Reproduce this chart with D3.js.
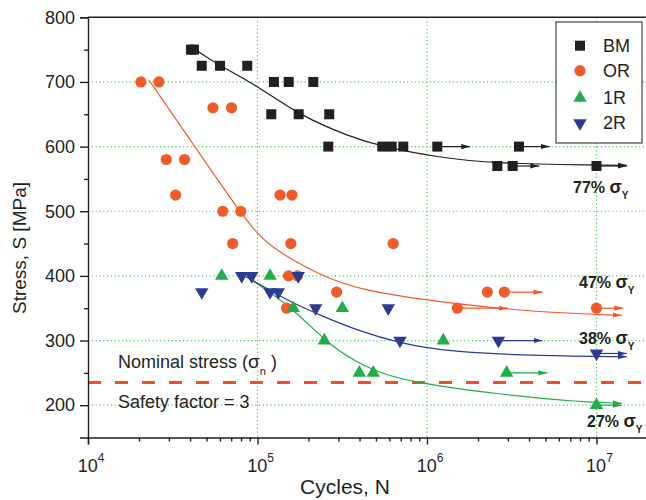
<!DOCTYPE html>
<html>
<head>
<meta charset="utf-8">
<script src="https://cdn.jsdelivr.net/npm/d3@7/dist/d3.min.js"></script>
<style>
  body { margin: 0; background: #fff; }
  svg text { font-family: "Liberation Sans", Arial, Helvetica, sans-serif; fill: #231f20; }
</style>
</head>
<body>
<div id="chart"></div>
<script>
// data: [cycles, stress MPa]
const bmPoints = [[40500, 750], [42200, 750], [46900, 725], [60100, 725], [87000, 725],
  [125000, 700], [152800, 700], [213500, 700], [120600, 650], [175000, 650], [265000, 650],
  [261600, 600], [544600, 600], [619000, 600], [724700, 600], [1150000, 600], [3490000, 600],
  [2600000, 570], [3200000, 570], [10000000, 570]];
const orPoints = [[20500, 700], [26200, 700], [54600, 660], [70300, 660], [28970, 580], [37100, 580],
  [32880, 525], [135800, 525], [159800, 525], [62400, 500], [79700, 500],
  [71400, 450], [157200, 450], [632000, 450], [152400, 400], [172200, 400],
  [293000, 375], [2270000, 375], [2860000, 375], [148500, 350], [1510000, 350], [10000000, 350]];
const r1Points = [[61500, 400], [118500, 400], [162600, 350], [316600, 350], [247700, 300],
  [1248000, 300], [399000, 250], [482000, 250], [2950000, 250], [10000000, 200]];
const r2Points = [[80700, 400], [92400, 400], [174000, 400], [46900, 375], [118500, 375],
  [132700, 375], [220500, 350], [591000, 350], [693000, 300], [2640000, 300], [10000000, 280]];

// run-outs: [start cycles, stress, arrow end cycles]
const bmRunouts = [[1150000, 600, 1800000], [3490000, 600, 5300000], [3200000, 570, 4600000], [10000000, 570, 15100000]];
const orRunouts = [[2860000, 375, 4800000], [1510000, 350, 3000000], [10000000, 350, 14400000]];
const r1Runouts = [[2950000, 250, 5130000], [10000000, 200, 14100000]];
const r2Runouts = [[2640000, 300, 4810000], [10000000, 280, 15100000]];

// fitted curves
const bmCurve = [[44700, 747], [60100, 725], [98900, 695], [175000, 649], [351000, 615],
  [545000, 600], [1190000, 583], [2460000, 574], [9800000, 571.5], [15100000, 571]];
const orCurve = [[22900, 703], [36500, 626], [77100, 502], [98900, 466], [126900, 440],
  [223500, 404], [384600, 378], [1420000, 357], [4370000, 344], [14100000, 339]];
const r1Curve = [[86300, 399], [162600, 350], [244600, 301], [384900, 265], [605000, 244],
  [951000, 234], [1367000, 227], [2500000, 218], [7650000, 205], [14100000, 203]];
const r2Curve = [[82500, 401], [118500, 378], [155500, 360], [244600, 337], [384900, 316],
  [693000, 295.5], [1367000, 282.5], [4640000, 276], [15100000, 275]];

const cycleTicks = [1e4, 1e5, 1e6, 1e7];
const tickExponents = ['4', '5', '6', '7'];
const stressTicks = [200, 300, 400, 500, 600, 700, 800];
const stressMinor = [250, 350, 450, 550, 650, 750];
const nominalStress = 235;
const endLabels = [['77%', 573, 193], ['47%', 579, 288], ['38%', 579, 344], ['27%', 587, 427]];

const W = 646, H = 500;
const svg = d3.select('#chart').append('svg').attr('width', W).attr('height', H);

const x = d3.scaleLog().domain([1e4, 2e7]).range([88, 647.5]);
const y = d3.scaleLinear().domain([150, 800]).range([437.5, 17.3]);

const series = [
  { name: 'BM', color: '#231f20', shape: 'square', points: bmPoints, runouts: bmRunouts, curve: bmCurve },
  { name: 'OR', color: '#f15a29', shape: 'circle', points: orPoints, runouts: orRunouts, curve: orCurve },
  { name: '1R', color: '#20ad4a', shape: 'up', points: r1Points, runouts: r1Runouts, curve: r1Curve },
  { name: '2R', color: '#2b3a93', shape: 'down', points: r2Points, runouts: r2Runouts, curve: r2Curve }
];

const defs = svg.append('defs');
series.forEach(s => {
  defs.append('marker')
    .attr('id', 'arr-' + s.name)
    .attr('viewBox', '0 -3 9 6')
    .attr('refX', 9).attr('refY', 0)
    .attr('markerUnits', 'userSpaceOnUse')
    .attr('markerWidth', 9).attr('markerHeight', 6)
    .attr('orient', 'auto')
    .append('path').attr('d', 'M0,-2.6L9,0L0,2.6Z').attr('fill', s.color);
});

// grid
const gridColor = '#47c95a';
svg.append('g').selectAll('line').data(stressTicks.filter(d => d < 800)).join('line')
  .attr('x1', x.range()[0]).attr('x2', W)
  .attr('y1', d => y(d)).attr('y2', d => y(d))
  .attr('stroke', gridColor).attr('stroke-width', 1.2).attr('stroke-dasharray', '1.2,2.6');
svg.append('g').selectAll('line').data(cycleTicks.slice(1)).join('line')
  .attr('x1', d => x(d)).attr('x2', d => x(d))
  .attr('y1', y(800)).attr('y2', y(150))
  .attr('stroke', gridColor).attr('stroke-width', 1.2).attr('stroke-dasharray', '1.2,2.6');

// nominal stress line
svg.append('line')
  .attr('x1', x.range()[0]).attr('x2', W)
  .attr('y1', y(nominalStress)).attr('y2', y(nominalStress))
  .attr('stroke', '#f04e23').attr('stroke-width', 3).attr('stroke-dasharray', '13,14');

svg.append('text').attr('x', 118).attr('y', 368).style('font-size', '18px')
  .call(t => {
    t.append('tspan').text('Nominal stress (');
    t.append('tspan').text('σ').style('font-size', '19px');
    t.append('tspan').text('n').attr('dy', 7).style('font-size', '11px');
    t.append('tspan').text(' )').attr('dy', -7);
  });
svg.append('text').attr('x', 118).attr('y', 408).style('font-size', '18px').text('Safety factor = 3');

// curves and run-out arrows
const line = d3.line().x(d => x(d[0])).y(d => y(d[1])).curve(d3.curveBasis);
series.forEach(s => {
  svg.append('path').datum(s.curve)
    .attr('d', line)
    .attr('fill', 'none').attr('stroke', s.color).attr('stroke-width', 1.2)
    .attr('marker-end', `url(#arr-${s.name})`);
  svg.append('g').selectAll('line').data(s.runouts).join('line')
    .attr('x1', d => x(d[0])).attr('x2', d => x(d[2]))
    .attr('y1', d => y(d[1])).attr('y2', d => y(d[1]))
    .attr('stroke', s.color).attr('stroke-width', 1.2)
    .attr('marker-end', `url(#arr-${s.name})`);
});

function drawMarker(g, shape, color, cx, cy) {
  if (shape === 'square') {
    g.append('rect').attr('x', cx - 5).attr('y', cy - 5).attr('width', 10).attr('height', 10).attr('fill', color);
  } else if (shape === 'circle') {
    g.append('circle').attr('cx', cx).attr('cy', cy).attr('r', 5.6).attr('fill', color);
  } else {
    const sym = d3.symbol().type(d3.symbolTriangle).size(78);
    g.append('path').attr('d', sym)
      .attr('transform', `translate(${cx},${cy})` + (shape === 'down' ? ' rotate(180)' : ''))
      .attr('fill', color);
  }
}

series.forEach(s => {
  const g = svg.append('g');
  s.points.forEach(p => drawMarker(g, s.shape, s.color, x(p[0]), y(p[1])));
});

// end labels
endLabels.forEach(([pct, lx, ly]) => {
  const t = svg.append('text').attr('x', lx).attr('y', ly)
    .style('font-size', '16px').style('font-weight', 'bold');
  t.append('tspan').text(pct + ' ');
  t.append('tspan').text('σ').style('font-size', '18px');
  t.append('tspan').text('Y').attr('dy', 6).style('font-size', '10px');
});

// axes
const axisColor = '#231f20';
const yAxis = svg.append('g').attr('transform', `translate(${x.range()[0]},0)`)
  .call(d3.axisLeft(y).tickValues(stressTicks).tickSize(8).tickPadding(5).tickFormat(d3.format('d')));
svg.append('g').attr('transform', `translate(${x.range()[0]},0)`)
  .call(d3.axisLeft(y).tickValues(stressMinor).tickSize(4).tickFormat(''))
  .select('.domain').remove();
yAxis.selectAll('text').style('font-size', '18px').attr('fill', axisColor);

const minorCycles = [];
[1e4, 1e5, 1e6, 1e7].forEach(dec => { for (let k = 2; k <= 9; k++) if (dec * k <= 2e7) minorCycles.push(dec * k); });
svg.append('g').attr('transform', `translate(0,${y.range()[0]})`)
  .call(d3.axisBottom(x).tickValues(cycleTicks).tickSize(7).tickFormat(''));
svg.append('g').attr('transform', `translate(0,${y.range()[0]})`)
  .call(d3.axisBottom(x).tickValues(minorCycles).tickSize(4).tickFormat(''))
  .select('.domain').remove();
svg.selectAll('.domain, .tick line').attr('stroke', axisColor).attr('stroke-width', 1.4);

cycleTicks.forEach((v, i) => {
  const t = svg.append('text').attr('x', x(v) + 3).attr('y', 472)
    .attr('text-anchor', 'middle').style('font-size', '18px');
  t.append('tspan').text('10');
  t.append('tspan').text(tickExponents[i]).attr('dy', -10).style('font-size', '12px');
});

// top frame
svg.append('line').attr('x1', x.range()[0]).attr('x2', W).attr('y1', y(800)).attr('y2', y(800))
  .attr('stroke', axisColor).attr('stroke-width', 1.4);

svg.append('text').attr('x', 345).attr('y', 494).attr('text-anchor', 'middle')
  .style('font-size', '21px').text('Cycles, N');
svg.append('text').attr('transform', 'translate(26,248) rotate(-90)').attr('text-anchor', 'middle')
  .style('font-size', '19px').text('Stress, S [MPa]');

// legend
const legend = svg.append('g');
legend.append('rect').attr('x', 556).attr('y', 22).attr('width', 86).attr('height', 121)
  .attr('fill', '#fff').attr('stroke', '#444').attr('stroke-width', 1.2);
const legendY = [45.7, 70.7, 98, 123];
series.forEach((s, i) => {
  drawMarker(legend, s.shape, s.color, 580, legendY[i]);
  legend.append('text').attr('x', 603).attr('y', legendY[i]).attr('dy', '0.36em')
    .style('font-size', '18px').text(s.name);
});
</script>
</body>
</html>
